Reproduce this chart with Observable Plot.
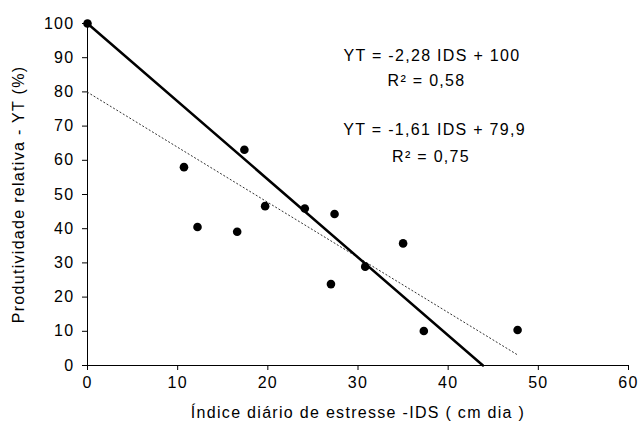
<!DOCTYPE html>
<html>
<head>
<meta charset="utf-8">
<script src="https://cdn.jsdelivr.net/npm/d3@7"></script>
<script src="https://cdn.jsdelivr.net/npm/@observablehq/plot@0.6"></script>
<style>
  html, body { margin: 0; padding: 0; background: #fff; }
</style>
</head>
<body>
<div id="chart"></div>
<script>
// Observed points: IDS (x) vs YT (y)
const ids = [0, 10.7, 12.2, 16.6, 17.4, 19.7, 24.1, 27.0, 27.4, 30.8, 35.0, 37.3, 47.7];
const yt  = [100, 58.0, 40.5, 39.1, 63.1, 46.6, 45.9, 23.8, 44.3, 28.9, 35.7, 10.1, 10.4];

// Fitted lines (end points as drawn)
const solidX = [0, 43.86];
const solidY = [100, 0];
const dottedX = [0, 47.7];
const dottedY = [79.9, 3.1];

// Annotations
const noteText = ["YT = -2,28 IDS + 100", "R\u00B2 = 0,58", "YT = -1,61 IDS + 79,9", "R\u00B2 = 0,75"];
const noteX = [38.2, 37.6, 38.5, 38.1];
const noteY = [90.6, 83.1, 68.9, 61.1];

// Ticks
const xTicks = [0, 10, 20, 30, 40, 50, 60];
const yTicks = [0, 10, 20, 30, 40, 50, 60, 70, 80, 90, 100];

const points = ids.map((x, i) => ({x, y: yt[i]}));
const solid = solidX.map((x, i) => ({x, y: solidY[i]}));
const dotted = dottedX.map((x, i) => ({x, y: dottedY[i]}));
const notes = noteText.map((t, i) => ({t, x: noteX[i], y: noteY[i]}));

const chart = Plot.plot({
  width: 638,
  height: 433,
  marginLeft: 87,
  marginRight: 10,
  marginTop: 23,
  marginBottom: 68,
  style: {
    fontFamily: "'Liberation Sans', Arial, sans-serif",
    fontSize: "16px",
    letterSpacing: "1.3px",
    color: "#000",
    background: "#fff"
  },
  x: {domain: [0, 60], ticks: xTicks},
  y: {domain: [0, 100], ticks: yTicks},
  marks: [
    Plot.axisX({
      ticks: xTicks, tickSize: 5, tickPadding: 6,
      label: "Índice diário de estresse -IDS ( cm dia )",
      labelAnchor: "center", labelArrow: false, labelOffset: 52
    }),
    Plot.axisY({
      ticks: yTicks, tickSize: 5, tickPadding: 8,
      label: "Produtividade relativa - YT (%)",
      labelAnchor: "center", labelArrow: false, labelOffset: 75
    }),
    Plot.ruleY([0], {stroke: "#000", strokeWidth: 1}),
    Plot.ruleX([0], {stroke: "#000", strokeWidth: 1}),
    Plot.line(dotted, {x: "x", y: "y", stroke: "#333", strokeWidth: 1, strokeDasharray: "1.2,2.6"}),
    Plot.line(solid, {x: "x", y: "y", stroke: "#000", strokeWidth: 2.5}),
    Plot.dot(points, {x: "x", y: "y", r: 4.3, fill: "#000", stroke: "none"}),
    Plot.text(notes, {x: "x", y: "y", text: "t", fill: "#000", fontSize: 16, textAnchor: "middle", lineAnchor: "middle"})
  ]
});
document.getElementById("chart").appendChild(chart);
</script>
</body>
</html>
